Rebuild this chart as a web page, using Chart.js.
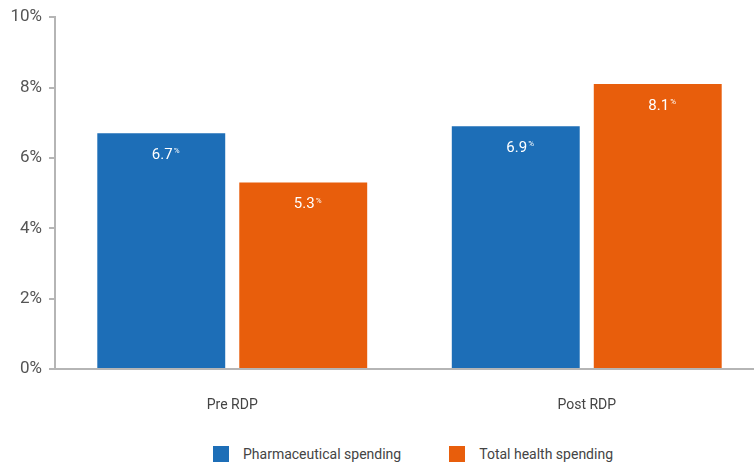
<!DOCTYPE html>
<html>
<head>
<meta charset="utf-8">
<script src="https://cdn.jsdelivr.net/npm/chart.js@4"></script>
<style>
  html, body { margin: 0; padding: 0; background: #fff; overflow: hidden; }
  #wrap { position: relative; width: 770px; height: 466px; }
  #box { position: absolute; left: 0; top: 0; width: 770px; height: 412px; }
  #legend { position: absolute; top: 446px; left: 213px; display: flex; font-family: Roboto, sans-serif; font-size: 14px; color: #444; }
  .item { display: flex; align-items: center; margin-right: 48px; }
  .sw { width: 16px; height: 16px; margin-right: 14px; }
</style>
</head>
<body>
<div id="wrap">
  <div id="box"><canvas id="chart"></canvas></div>
  <div id="legend"></div>
</div>
<script>
// chart data
const periods = ['Pre RDP', 'Post RDP'];
const pharmaSpending = [6.7, 6.9];
const healthSpending = [5.3, 8.1];
const seriesNames = ['Pharmaceutical spending', 'Total health spending'];
const seriesColors = ['#1d6eb7', '#e85e0c'];

const axisGray = '#b5b5b5';

// white value labels inside the bars, with a small raised %
const valueLabels = {
    id: 'valueLabels',
    afterDatasetsDraw(chart) {
        const c = chart.ctx;
        c.save();
        c.fillStyle = '#fff';
        c.textBaseline = 'middle';
        chart.data.datasets.forEach((ds, i) => {
            chart.getDatasetMeta(i).data.forEach((bar, j) => {
                const txt = ds.data[j].toFixed(1);
                c.font = '15px Roboto, sans-serif';
                const w = c.measureText(txt).width;
                const y = bar.y + 22;
                c.textAlign = 'center';
                c.fillText(txt, bar.x + 1, y);
                c.font = '8px Roboto, sans-serif';
                c.textAlign = 'left';
                c.fillText('%', bar.x + 1 + w / 2 + 1, y - 4);
            });
        });
        c.restore();
    }
};

const ctx = document.getElementById('chart').getContext('2d');
const chart = new Chart(ctx, {
    type: 'bar',
    data: {
        labels: periods,
        datasets: [
            { label: seriesNames[0], data: pharmaSpending, backgroundColor: seriesColors[0] },
            { label: seriesNames[1], data: healthSpending, backgroundColor: seriesColors[1] }
        ]
    },
    options: {
        responsive: true,
        maintainAspectRatio: false,
        animation: false,
        categoryPercentage: 0.801,
        barPercentage: 0.901,
        layout: { padding: { top: 15, right: 6, left: 0, bottom: 0 } },
        plugins: {
            legend: { display: false },
            tooltip: { enabled: false }
        },
        scales: {
            x: {
                grid: { display: false },
                border: { display: true, color: axisGray, width: 2 },
                ticks: {
                    color: '#444',
                    padding: 20,
                    font: { family: 'Roboto, sans-serif', size: 14 }
                },
                afterFit: s => { s.height = 43; }
            },
            y: {
                min: 0,
                max: 10,
                ticks: {
                    stepSize: 2,
                    padding: 7,
                    color: '#555',
                    font: { family: 'Roboto, sans-serif', size: 17 },
                    callback: v => v + '%'
                },
                grid: { drawOnChartArea: false, drawTicks: true, tickLength: 6, color: axisGray, lineWidth: 2 },
                border: { display: true, color: axisGray, width: 2 },
                afterFit: s => { s.width = 55; }
            }
        }
    },
    plugins: [valueLabels]
});

// legend
const legend = document.getElementById('legend');
seriesNames.forEach((name, i) => {
    const item = document.createElement('div');
    item.className = 'item';
    item.innerHTML = '<div class="sw" style="background:' + seriesColors[i] + '"></div><span>' + name + '</span>';
    legend.appendChild(item);
});
</script>
</body>
</html>
